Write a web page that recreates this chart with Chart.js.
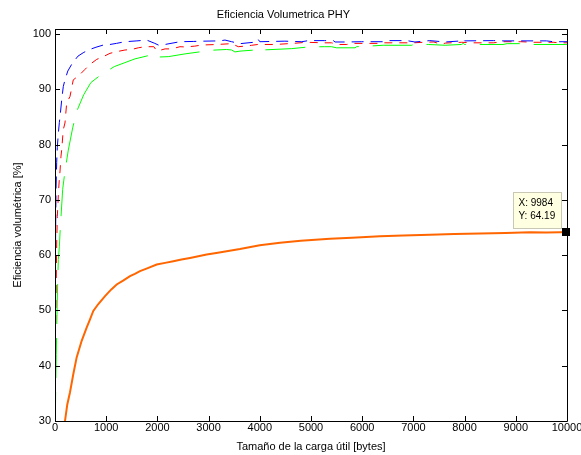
<!DOCTYPE html>
<html><head><meta charset="utf-8">
<script src="https://cdn.jsdelivr.net/npm/chart.js@4/dist/chart.umd.min.js"></script>
<style>html,body{margin:0;padding:0;background:#fff;}#wrap{width:581px;height:455px;}</style>
</head><body><div id="wrap"><canvas id="c" width="581" height="455"></canvas></div>
<script>
const titleText = 'Eficiencia Volumetrica PHY';
const xTitle = 'Tamaño de la carga útil [bytes]';
const yTitle = 'Eficiencia volumétrica [%]';
const xTicks = [0,1000,2000,3000,4000,5000,6000,7000,8000,9000,10000];
const yTicks = [30,40,50,60,70,80,90,100];

const blueX = [2,8,14,20,33,45,65,85,98,131,162,195,250,338,450,550,650,800,943,1074,1200,1367,1600,1790,1950,2018,2148,2441,2700,2900,3220,3320,3450,3613,3940,3970,4000,4490,4820,4950,5260,5435,5470,5700,5990,6400,6500,6870,7030,7320,7620,7940,7975,8000,8560,8750,9030,9600,9730,10000];
const blueY = [48,58,66,72,76.8,79.5,82,84,85,88.1,90.5,91.7,93.3,94.7,96.0,96.6,97.1,97.6,98.0,98.1,98.3,98.6,98.75,98.9,98.3,98.0,98.1,98.6,98.65,98.7,98.75,98.9,98.6,98.25,98.55,99.0,98.6,98.7,98.6,98.8,98.8,98.8,98.55,98.55,98.6,98.6,98.8,98.8,98.55,98.8,98.55,98.75,99.0,98.75,98.8,98.75,98.75,98.75,98.6,98.6];

const redX = [8,20,33,45,59,65,84,98,117,131,162,195,228,293,357,469,586,684,814,943,1074,1205,1367,1498,1627,1758,1930,1990,2150,2280,2441,2540,2730,2865,3160,3450,3580,3710,3840,3960,4300,4650,4785,4900,5260,5400,5530,5700,5830,6380,6410,7000,7200,7400,7550,7620,7940,8140,8560,8750,9100,9340,9730,9850,10000];
const redY = [45,52,62,67,69.5,71,73.7,75.2,77.9,79.1,82.7,83.9,87.5,88.7,91.7,92.5,93.6,94.5,95.4,95.9,96.5,96.8,97.1,97.2,97.5,97.7,97.7,96.9,97.3,97.3,97.7,97.65,97.8,98.0,98.1,98.25,97.7,97.8,97.95,98.1,98.1,98.3,98.4,98.5,98.4,98.4,98.1,98.1,98.3,98.3,98.4,98.4,98.5,98.55,98.1,98.35,98.5,98.4,98.4,98.6,98.6,98.5,98.5,98.4,98.4];

const greenX = [5,12,25,40,55,65,85,98,150,195,260,345,424,560,700,880,1158,1563,1920,1945,2213,2540,3060,3350,3450,3515,3613,3906,3970,4036,4622,4950,5260,5400,5500,5860,5890,6120,6410,6970,7000,7290,7620,7940,7975,8000,8750,8830,9080,9200,10000];
const greenY = [28,35,42,50,56,59.2,61.5,64,71.9,75.2,79,83,86,89,91.2,92.5,94.1,95.5,96.3,95.8,95.9,96.4,97.06,97.2,97.1,96.75,96.9,97.1,97.5,97.1,97.35,97.65,97.7,97.7,97.5,97.5,97.7,97.8,97.96,97.96,98.1,98.1,97.96,98.1,98.3,98.1,98.1,98.25,98.25,98.1,98.1];

const orangeX = [150,195,240,293,358,423,521,618,680,748,850,977,1100,1205,1330,1465,1560,1660,1800,1986,2150,2311,2470,2637,2800,2962,3150,3353,3613,4000,4395,4800,5370,5800,6348,6800,7324,7800,8300,8800,9277,9600,9863,9984];
const orangeY = [26,30,33,35.2,38.5,41.5,44.5,46.9,48.3,49.9,51.2,52.6,53.8,54.7,55.4,56.2,56.6,57.1,57.6,58.3,58.6,58.9,59.2,59.5,59.8,60.1,60.4,60.7,61.1,61.8,62.24,62.6,62.96,63.15,63.4,63.55,63.7,63.8,63.9,64.0,64.15,64.1,64.15,64.19];

const tipX = 9984, tipY = 64.19;

const FONT = 'Liberation Sans, Arial, Helvetica, sans-serif';
function pts(xs, ys){ return xs.map((x,i)=>({x:x, y:ys[i]})); }

const framePlugin = {
  id: 'frame',
  afterDatasetsDraw(chart){
    const {ctx, chartArea: a, scales} = chart;
    const xs = scales.x, ys = scales.y;
    ctx.save();
    ctx.strokeStyle = '#000';
    ctx.lineWidth = 1;
    ctx.beginPath();
    ctx.rect(Math.round(a.left)+0.5, Math.round(a.top)+0.5, Math.round(a.right-a.left), Math.round(a.bottom-a.top));
    ctx.stroke();
    const L = 5;
    ctx.beginPath();
    xTicks.forEach(v=>{
      const p = Math.round(xs.getPixelForValue(v))+0.5;
      ctx.moveTo(p, a.bottom); ctx.lineTo(p, a.bottom-L);
      ctx.moveTo(p, a.top); ctx.lineTo(p, a.top+L);
    });
    yTicks.forEach(v=>{
      const p = Math.round(ys.getPixelForValue(v))+0.5;
      ctx.moveTo(a.left, p); ctx.lineTo(a.left+L, p);
      ctx.moveTo(a.right, p); ctx.lineTo(a.right-L, p);
    });
    ctx.stroke();
    // data tip
    const px = xs.getPixelForValue(tipX), py = ys.getPixelForValue(tipY);
    const bw = 48, bh = 36;
    const bx = Math.round(px - 5 - bw)+0.5, by = Math.round(py - 4 - bh)+0.5;
    ctx.fillStyle = '#ffffe1';
    ctx.strokeStyle = '#c8c8b4';
    ctx.fillRect(bx, by, bw, bh);
    ctx.strokeRect(bx, by, bw, bh);
    ctx.fillStyle = '#000';
    ctx.font = '10px ' + FONT;
    ctx.textBaseline = 'middle';
    ctx.textAlign = 'left';
    ctx.fillText('X: ' + tipX, bx + 5, by + 11);
    ctx.fillText('Y: ' + tipY.toFixed(2), bx + 5, by + 24);
    ctx.fillStyle = '#000';
    ctx.fillRect(Math.round(px)-4, Math.round(py)-4, 8, 8);
    ctx.restore();
  }
};

new Chart(document.getElementById('c'), {
  type: 'line',
  data: {
    datasets: [
      {data: pts(blueX, blueY), borderColor:'#0000ff', borderWidth:1, borderDash:[12,7], pointRadius:0, tension:0},
      {data: pts(redX, redY), borderColor:'#ff0000', borderWidth:1, borderDash:[8,7], pointRadius:0, tension:0},
      {data: pts(greenX, greenY), borderColor:'#00ff00', borderWidth:1, borderDash:[40,14], pointRadius:0, tension:0},
      {data: pts(orangeX, orangeY), borderColor:'#ff6600', borderWidth:2, pointRadius:0, tension:0}
    ]
  },
  options: {
    responsive:false, animation:false,
    layout:{padding:{left:0, right:14, top:0, bottom:0}},
    plugins:{
      legend:{display:false}, tooltip:{enabled:false},
      title:{display:true, text:titleText, color:'#000', font:{family:FONT, size:11, weight:'normal', lineHeight:13/11}, padding:{top:8, bottom:8}}
    },
    scales:{
      x:{type:'linear', min:0, max:10000,
        afterBuildTicks:(s)=>{ s.ticks = xTicks.map(v=>({value:v})); },
        ticks:{color:'#000', font:{family:FONT, size:11}, padding:0, maxRotation:0, autoSkip:false, callback:(v)=>String(v)},
        grid:{display:false, drawTicks:false}, border:{display:false},
        title:{display:true, text:xTitle, color:'#000', font:{family:FONT, size:11}, padding:{top:0, bottom:1.5}},
        afterFit:(s)=>{ s.height = 34; s.paddingLeft = 0; s.paddingRight = 0; }
      },
      y:{type:'linear', min:30, max:100.9,
        afterBuildTicks:(s)=>{ s.ticks = yTicks.map(v=>({value:v})); },
        ticks:{color:'#000', font:{family:FONT, size:11}, padding:4, autoSkip:false, callback:(v)=>String(v)},
        grid:{display:false, drawTicks:false}, border:{display:false},
        title:{display:true, text:yTitle, color:'#000', font:{family:FONT, size:11}, padding:{top:11.4, bottom:0}},
        afterFit:(s)=>{ s.width = 55; s.paddingTop = 0; s.paddingBottom = 0; }
      }
    }
  },
  plugins:[framePlugin]
});
</script></body></html>
